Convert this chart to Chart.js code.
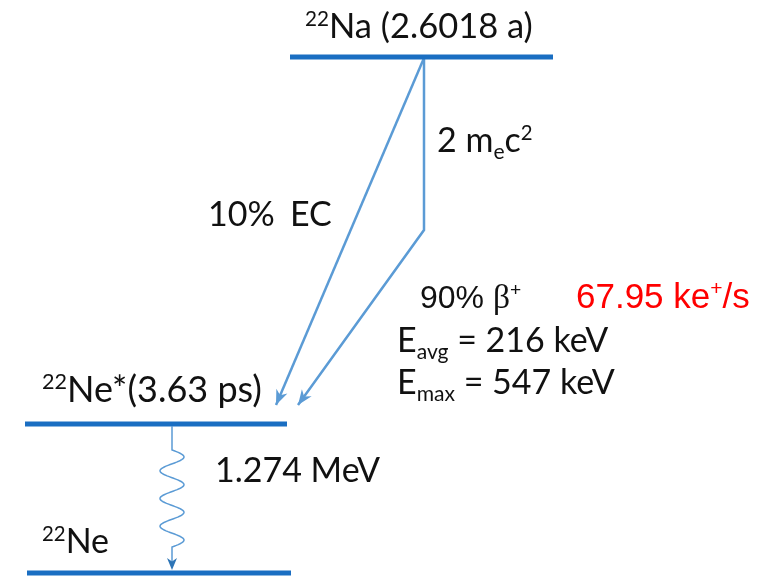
<!DOCTYPE html>
<html>
<head>
<meta charset="utf-8">
<script src="https://cdn.jsdelivr.net/npm/chart.js@4/dist/chart.umd.min.js"></script>
<style>
  html, body { margin: 0; padding: 0; background: #fff; overflow: hidden; }
</style>
</head>
<body>
<canvas id="scheme" width="771" height="576"></canvas>
<script>
// Diagram units: x 0..771 (left to right), y 0..576 (top to bottom)
const levelNames = ["22Na", "22Ne*", "22Ne"];
const levelY = [57, 424, 573];
const levelX0 = [290, 25, 27];
const levelX1 = [553, 287, 291];

// transitions
const ecX = [424, 276];
const ecY = [58, 405];
const betaX = [424, 424, 298];
const betaY = [58, 230, 405];
const gammaX = [172, 172];
const gammaY = [426, 570];

const LEVEL_COLOR = "#1a6ec2";
const ARROW_COLOR = "#5b9bd5";
const FONT = "Lato, 'Open Sans', sans-serif";
const ARIAL = "'Liberation Sans', Arial, sans-serif";

// text annotations: parts are [text, kind] where kind is "", "sup", "sub" or "beta"
const labels = [
  { x: 305, y: 38, size: 34.5, parts: [["22", "sup"], ["Na (2.6018 a)", ""]] },
  { x: 437, y: 152, size: 34, parts: [["2 m", ""], ["e", "sub"], ["c", ""], ["2", "sup"]] },
  { x: 208, y: 226, size: 34, parts: [["10%", ""]] },
  { x: 290, y: 226, size: 34, parts: [["EC", ""]] },
  { x: 420, y: 308, size: 32, font: ARIAL, parts: [["90% ", ""], ["β", "beta"], ["+", "sup"]] },
  { x: 576, y: 308, size: 35, color: "#ff0000", font: ARIAL,
    parts: [["67.95 ke", ""], ["+", "sup"], ["/s", ""]] },
  { x: 397, y: 352, size: 34, parts: [["E", ""], ["avg", "sub"], [" = 216 keV", ""]] },
  { x: 397, y: 394, size: 34, parts: [["E", ""], ["max", "sub"], [" = 547 keV", ""]] },
  { x: 42, y: 402, size: 36, parts: [["22", "sup"], ["Ne*(3.63 ps)", ""]] },
  { x: 215, y: 482, size: 34, parts: [["1.274 MeV", ""]] },
  { x: 42, y: 553, size: 34, parts: [["22", "sup"], ["Ne", ""]] },
];

function toPoints(xs, ys) {
  return xs.map((x, i) => ({ x, y: ys[i] }));
}

const levelDatasets = levelNames.map((name, i) => ({
  label: name,
  data: [{ x: levelX0[i], y: levelY[i] }, { x: levelX1[i], y: levelY[i] }],
  showLine: true,
  borderColor: LEVEL_COLOR,
  borderWidth: 5,
  pointRadius: 0,
}));

const transitionDatasets = [
  { label: "EC", data: toPoints(ecX, ecY), arrow: true },
  { label: "beta+", data: toPoints(betaX, betaY), arrow: true },
].map((d) => ({
  ...d,
  showLine: true,
  borderColor: ARROW_COLOR,
  borderWidth: 2.5,
  pointRadius: 0,
  tension: 0,
}));

const gammaDataset = {
  label: "gamma",
  data: toPoints(gammaX, gammaY),
  showLine: false,
  pointRadius: 0,
  gamma: true,
};

function drawRich(ctx, label) {
  const family = label.font || FONT;
  let x = label.x;
  ctx.fillStyle = label.color || "#111";
  ctx.textBaseline = "alphabetic";
  ctx.textAlign = "left";
  label.parts.forEach(([text, kind]) => {
    let size = label.size;
    let dy = 0;
    let fam = family;
    if (kind === "sup") {
      size = label.size * 0.6;
      dy = -label.size * 0.36;
    } else if (kind === "sub") {
      size = label.size * 0.62;
      dy = label.size * 0.2;
    } else if (kind === "beta") {
      fam = "'Liberation Serif', 'DejaVu Serif', serif";
      size = label.size * 1.05;
    }
    ctx.font = `${size}px ${fam}`;
    ctx.fillText(text, x, label.y + dy);
    x += ctx.measureText(text).width;
  });
}

function arrowHead(ctx, from, to, len, half, color) {
  const a = Math.atan2(to.y - from.y, to.x - from.x);
  const c = Math.cos(a), s = Math.sin(a);
  ctx.save();
  ctx.fillStyle = color;
  ctx.beginPath();
  ctx.moveTo(to.x, to.y);
  ctx.lineTo(to.x - len * c + half * s, to.y - len * s - half * c);
  ctx.lineTo(to.x - len * 0.7 * c, to.y - len * 0.7 * s);
  ctx.lineTo(to.x - len * c - half * s, to.y - len * s + half * c);
  ctx.closePath();
  ctx.fill();
  ctx.restore();
}

const schemePlugin = {
  id: "scheme",
  afterDatasetsDraw(chart) {
    const ctx = chart.ctx;
    chart.data.datasets.forEach((ds, i) => {
      const pts = chart.getDatasetMeta(i).data;
      if (ds.arrow) {
        const p1 = pts[pts.length - 1];
        const p0 = pts[pts.length - 2];
        arrowHead(ctx, p0, p1, 15, 6, ARROW_COLOR);
      }
      if (ds.gamma) {
        const top = pts[0], bot = pts[1];
        const waveTop = top.y + 24, waveBot = bot.y - 23;
        ctx.save();
        ctx.strokeStyle = ARROW_COLOR;
        ctx.lineWidth = 1.5;
        ctx.beginPath();
        ctx.moveTo(top.x, top.y);
        ctx.lineTo(top.x, waveTop);
        const n = 120;
        for (let k = 0; k <= n; k++) {
          const t = k / n;
          ctx.lineTo(top.x + 12 * Math.sin(2 * Math.PI * 3.5 * t), waveTop + (waveBot - waveTop) * t);
        }
        ctx.lineTo(bot.x, bot.y - 8);
        ctx.stroke();
        ctx.restore();
        arrowHead(ctx, { x: bot.x, y: bot.y - 20 }, bot, 12, 5, "#2e75b6");
      }
    });
    labels.forEach((l) => drawRich(ctx, l));
  },
};

new Chart(document.getElementById("scheme"), {
  type: "scatter",
  data: { datasets: [...levelDatasets, ...transitionDatasets, gammaDataset] },
  options: {
    responsive: false,
    animation: false,
    devicePixelRatio: 1,
    layout: { padding: 0 },
    plugins: { legend: { display: false }, tooltip: { enabled: false } },
    scales: {
      x: { type: "linear", min: 0, max: 771, display: false },
      y: { type: "linear", min: 0, max: 576, reverse: true, display: false },
    },
  },
  plugins: [schemePlugin],
});
</script>
</body>
</html>
